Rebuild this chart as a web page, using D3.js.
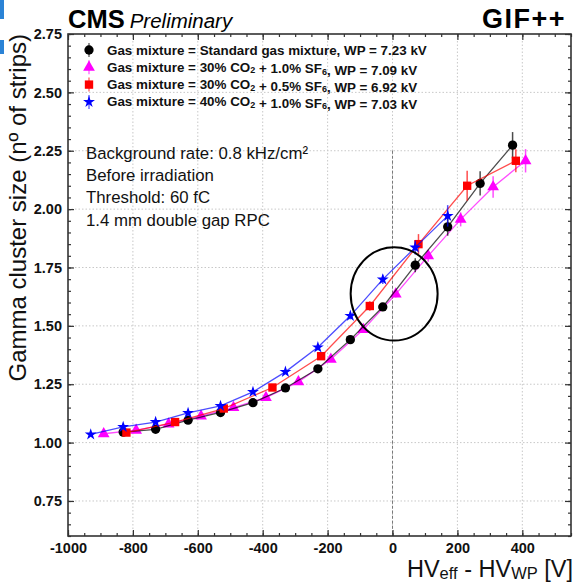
<!DOCTYPE html>
<html>
<head>
<meta charset="utf-8">
<script src="https://cdn.jsdelivr.net/npm/d3@7"></script>
<style>
  body { margin: 0; background: #fff; }
  svg { display: block; font-family: "Liberation Sans", Arial, sans-serif; }
</style>
</head>
<body>
<div id="chart"></div>
<script>
// HV_eff - HV_WP [V] and gamma cluster size for each gas mixture
const hvStd = [-830, -730, -630, -530, -430, -330, -230, -130, -30, 70, 170, 270, 370];
const csStd = [1.045, 1.057, 1.096, 1.129, 1.171, 1.234, 1.316, 1.441, 1.581, 1.760, 1.924, 2.110, 2.274];
const errStd = [0.008, 0.008, 0.008, 0.008, 0.01, 0.01, 0.012, 0.012, 0.015, 0.03, 0.038, 0.052, 0.056];

const hvMag = [-890, -790, -690, -590, -490, -390, -290, -190, -90, 10, 110, 210, 310, 410];
const csMag = [1.038, 1.053, 1.079, 1.113, 1.150, 1.193, 1.260, 1.357, 1.484, 1.636, 1.800, 1.956, 2.095, 2.207];
const errMag = [0.006, 0.006, 0.006, 0.008, 0.008, 0.008, 0.01, 0.01, 0.012, 0.015, 0.025, 0.03, 0.046, 0.05];

const hvRed = [-820, -670, -520, -370, -220, -70, 80, 230, 380];
const csRed = [1.043, 1.088, 1.146, 1.236, 1.370, 1.585, 1.850, 2.100, 2.207];
const errRed = [0.006, 0.008, 0.008, 0.01, 0.012, 0.02, 0.043, 0.064, 0.049];

const hvBlue = [-930, -830, -730, -630, -530, -430, -330, -230, -130, -30, 70, 170];
const csBlue = [1.035, 1.067, 1.088, 1.127, 1.157, 1.217, 1.303, 1.408, 1.543, 1.699, 1.836, 1.971];
const errBlue = [0.006, 0.006, 0.006, 0.008, 0.008, 0.008, 0.01, 0.012, 0.015, 0.02, 0.03, 0.046];

const xTicks = [-1000, -800, -600, -400, -200, 0, 200, 400];
const yTicks = [0.75, 1.00, 1.25, 1.50, 1.75, 2.00, 2.25, 2.50, 2.75];
const infoLines = ["Background rate: 0.8 kHz/cm²", "Before irradiation", "Threshold: 60 fC", "1.4 mm double gap RPC"];

const series = [
  { hv: hvStd, cs: csStd, err: errStd, color: "#000000", symbol: d3.symbolCircle, size: 68,
    label: [["Gas mixture = Standard gas mixture, WP = 7.23 kV"]] },
  { hv: hvMag, cs: csMag, err: errMag, color: "#ff00ff", symbol: d3.symbolTriangle, size: 60,
    label: [["Gas mixture = 30% CO"], ["2", "sub"], [" + 1.0% SF"], ["6", "sub"], [", WP = 7.09 kV"]] },
  { hv: hvRed, cs: csRed, err: errRed, color: "#ff0000", symbol: d3.symbolSquare, size: 70,
    label: [["Gas mixture = 30% CO"], ["2", "sub"], [" + 0.5% SF"], ["6", "sub"], [", WP = 6.92 kV"]] },
  { hv: hvBlue, cs: csBlue, err: errBlue, color: "#0000ff", symbol: d3.symbolStar, size: 44,
    label: [["Gas mixture = 40% CO"], ["2", "sub"], [" + 1.0% SF"], ["6", "sub"], [", WP = 7.03 kV"]] }
];
// drawing order: red and blue lines above black/magenta like the original
const drawOrder = [1, 0, 2, 3];

const width = 577, height = 583;
const mLeft = 68, mRight = 571, mTop = 34, mBottom = 536;

const x = d3.scaleLinear().domain([-1000, 550]).range([mLeft, mRight]);
const y = d3.scaleLinear().domain([0.6, 2.75]).range([mBottom, mTop]);

const svg = d3.select("#chart").append("svg")
  .attr("width", width).attr("height", height)
  .attr("viewBox", [0, 0, width, height]);

// slide edge remnants
svg.append("rect").attr("x", 0).attr("y", 0).attr("width", 4).attr("height", 19).attr("fill", "#2b83d6");
svg.append("rect").attr("x", 0).attr("y", 40).attr("width", 4).attr("height", 14).attr("fill", "#2b83d6");

// grid
const grid = svg.append("g").attr("stroke", "#c8c8c8").attr("stroke-width", 1).attr("stroke-dasharray", "1.5,2");
grid.selectAll(".gx").data(xTicks.filter((d) => d > -1000)).join("line")
  .attr("x1", (d) => x(d)).attr("x2", (d) => x(d)).attr("y1", mTop).attr("y2", mBottom);
grid.selectAll(".gy").data(yTicks.filter((d) => d < 2.75)).join("line")
  .attr("y1", (d) => y(d)).attr("y2", (d) => y(d)).attr("x1", mLeft).attr("x2", mRight);

// WP reference line
svg.append("line")
  .attr("x1", x(0)).attr("x2", x(0)).attr("y1", y(2.25)).attr("y2", mBottom)
  .attr("stroke", "#777").attr("stroke-width", 1).attr("stroke-dasharray", "3,2");

// axes (ROOT style ticks inside, on all four sides)
const minorX = d3.range(-1000, 551, 50);
const minorY = d3.range(0.6, 2.751, 0.05);
function axisGroup(axis, tx, ty) {
  const g = svg.append("g").attr("transform", `translate(${tx},${ty})`).call(axis);
  g.select(".domain").remove();
  g.selectAll("line").attr("stroke", "#333").attr("stroke-width", 1.2);
  return g;
}
axisGroup(d3.axisBottom(x).tickValues(minorX).tickSize(-3).tickFormat(""), 0, mBottom);
axisGroup(d3.axisTop(x).tickValues(minorX).tickSize(-3).tickFormat(""), 0, mTop);
axisGroup(d3.axisLeft(y).tickValues(minorY).tickSize(-3).tickFormat(""), mLeft, 0);
axisGroup(d3.axisRight(y).tickValues(minorY).tickSize(-3).tickFormat(""), mRight, 0);

const xAxis = axisGroup(d3.axisBottom(x).tickValues(xTicks).tickSize(-6).tickPadding(7).tickFormat(d3.format("d")), 0, mBottom);
axisGroup(d3.axisTop(x).tickValues(xTicks).tickSize(-6).tickFormat(""), 0, mTop);
const yAxis = axisGroup(d3.axisLeft(y).tickValues(yTicks).tickSize(-6).tickPadding(10).tickFormat(d3.format(".2f")), mLeft, 0);
axisGroup(d3.axisRight(y).tickValues(yTicks).tickSize(-6).tickFormat(""), mRight, 0);

[xAxis, yAxis].forEach((g) => g.selectAll("text")
  .attr("font-family", "Liberation Sans, Arial, sans-serif")
  .attr("font-weight", "bold").attr("font-size", 14.5).attr("fill", "#111"));
xAxis.selectAll("text").text((d) => String(d));
yAxis.selectAll("text").attr("dx", 4);

// frame
svg.append("rect")
  .attr("x", mLeft).attr("y", mTop).attr("width", mRight - mLeft).attr("height", mBottom - mTop)
  .attr("fill", "none").attr("stroke", "#333").attr("stroke-width", 1.6);

// series
const plot = svg.append("g");
drawOrder.forEach((i) => {
  const s = series[i];
  const pts = s.hv.map((h, j) => ({ hv: h, cs: s.cs[j], err: s.err[j] }));
  const g = plot.append("g");
  g.append("path")
    .datum(pts)
    .attr("fill", "none").attr("stroke", s.color).attr("stroke-opacity", 0.7).attr("stroke-width", 1.3)
    .attr("d", d3.line().x((d) => x(d.hv)).y((d) => y(d.cs)));
  g.selectAll(".err").data(pts).join("line")
    .attr("x1", (d) => x(d.hv)).attr("x2", (d) => x(d.hv))
    .attr("y1", (d) => y(d.cs - d.err)).attr("y2", (d) => y(d.cs + d.err))
    .attr("stroke", s.color).attr("stroke-opacity", 0.7).attr("stroke-width", 1.5);
  g.selectAll(".mk").data(pts).join("path")
    .attr("transform", (d) => `translate(${x(d.hv)},${y(d.cs)})`)
    .attr("d", d3.symbol(s.symbol, s.size))
    .attr("fill", s.color);
});

// highlighted region around the working point
svg.append("ellipse")
  .attr("cx", x(5)).attr("cy", y(1.637))
  .attr("rx", x(134) - x(0)).attr("ry", y(0) - y(0.2))
  .attr("fill", "none").attr("stroke", "#000").attr("stroke-width", 2);

// legend
const legend = svg.append("g");
series.forEach((s, i) => {
  const ly = 50 + i * 17.3;
  legend.append("line")
    .attr("x1", 89).attr("x2", 89).attr("y1", ly - 7).attr("y2", ly + 7)
    .attr("stroke", s.color).attr("stroke-width", 1.2).attr("stroke-opacity", 0.7);
  legend.append("path")
    .attr("transform", `translate(89,${ly})`)
    .attr("d", d3.symbol(s.symbol, s.size))
    .attr("fill", s.color);
  const t = legend.append("text")
    .attr("x", 107).attr("y", ly + 4.5)
    .attr("font-size", 13.4).attr("font-weight", "bold").attr("fill", "#111");
  s.label.forEach(([str, kind]) => {
    if (kind === "sub") {
      t.append("tspan").attr("font-size", 9).attr("dy", 1.5).text(str);
      t.append("tspan").attr("dy", -1.5).text("");
    } else {
      t.append("tspan").text(str);
    }
  });
});

// info text
svg.append("g").selectAll("text").data(infoLines).join("text")
  .attr("x", 86).attr("y", (d, i) => 159 + i * 22.2)
  .attr("font-size", 16.8).attr("fill", "#111")
  .text((d) => d);

// headers
const head = svg.append("text").attr("x", 68).attr("y", 28).attr("fill", "#000");
head.append("tspan").attr("font-weight", "bold").attr("font-size", 25.5).text("CMS");
head.append("tspan").attr("font-style", "italic").attr("font-size", 20.5).attr("dx", 5).text("Preliminary");
svg.append("text").attr("x", 566).attr("y", 28).attr("text-anchor", "end")
  .attr("font-weight", "bold").attr("font-size", 27).attr("letter-spacing", 1.5).text("GIF++");

// axis titles
svg.append("text")
  .attr("transform", `translate(26,${mTop}) rotate(-90)`)
  .attr("text-anchor", "end").attr("font-size", 24).attr("fill", "#111")
  .text("Gamma cluster size (nº of strips)");

const xt = svg.append("text").attr("x", mRight + 2).attr("y", 577)
  .attr("text-anchor", "end").attr("font-size", 23.5).attr("fill", "#111");
xt.append("tspan").text("HV");
xt.append("tspan").attr("font-size", 16.5).attr("dy", 1.5).text("eff");
xt.append("tspan").attr("dy", -1.5).text(" - HV");
xt.append("tspan").attr("font-size", 16.5).attr("dy", 1.5).text("WP");
xt.append("tspan").attr("dy", -1.5).text(" [V]");
</script>
</body>
</html>
